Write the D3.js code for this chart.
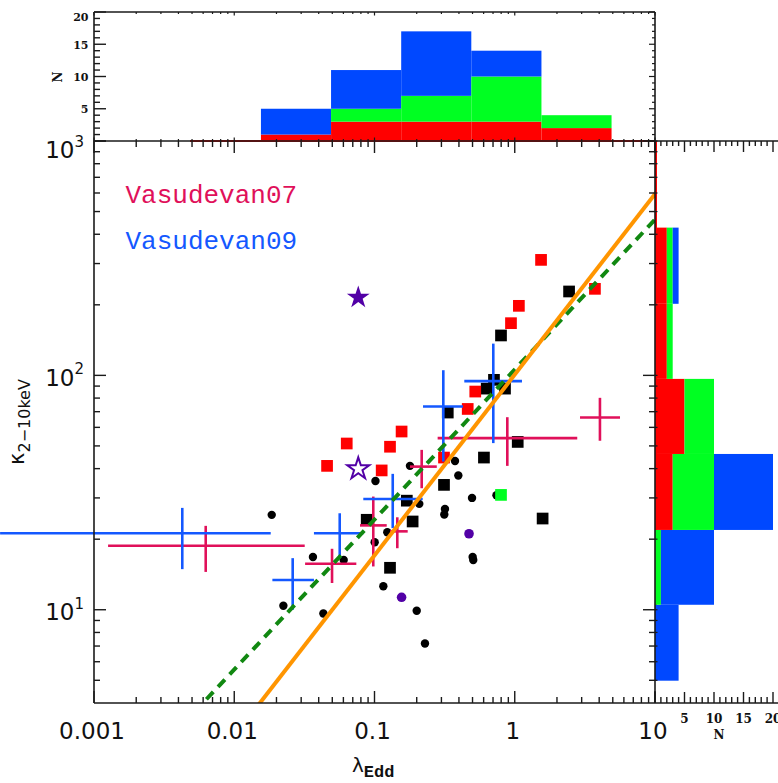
<!DOCTYPE html>
<html><head><meta charset="utf-8">
<script src="https://cdn.jsdelivr.net/npm/d3@7"></script>
<style>body{margin:0;background:#fff} svg{display:block}</style>
</head><body>
<svg id="c" width="778" height="783"></svg>
<script>
// ---------------- data ----------------
const blackSquares = [[2.44,228],[0.798,148],[0.711,95.7],[0.631,87.8],[0.852,87.8],[0.333,69.4],[1.05,52.0],[0.603,44.6],[0.313,34.1],[0.170,29.2],[0.187,23.8],[0.129,15.1],[1.58,24.5],[0.088,24.2]];
const redSquares = [[1.54,311],[3.73,234],[1.07,198],[0.94,167],[0.523,85.3],[0.462,71.9],[0.313,44.6],[0.156,57.6],[0.129,49.6],[0.1125,39.3],[0.0634,51.2],[0.0459,41.1]];
const greenSquares = [[0.798,30.9]];
const blackCircles = [[0.741,30.8],[0.179,41.1],[0.1016,35.4],[0.375,43.1],[0.396,37.4],[0.496,30.0],[0.2086,28.3],[0.318,26.9],[0.3145,25.5],[0.1234,21.4],[0.1003,19.4],[0.501,16.8],[0.506,16.3],[0.1156,12.6],[0.200,9.9],[0.229,7.18],[0.0185,25.4],[0.0364,16.8],[0.0603,16.3],[0.0224,10.4],[0.0432,9.64]];
const purpleCircles = [[0.472,21.1],[0.156,11.3]];
const filledStars = [[0.0766,215]];
const openStars = [[0.0766,39.9]];
// lambda, lambdaLo, lambdaHi, kappa, kappaLo, kappaHi
const vasudevan07 = [[0.00626,0.00126,0.0318,18.75,14.5,22.8],[0.0498,0.0320,0.0742,15.7,13.0,18.2],[0.098,0.0788,0.1222,22.9,15.3,30.4],[0.1454,0.129,0.1725,21.6,18.3,24.8],[0.217,0.179,0.278,40.8,33.0,48.1],[0.885,0.282,2.79,54.0,41.1,66.3],[4.05,2.92,5.63,66.1,52.6,80.2]];
const vasudevan09 = [[0.00426,0.000214,0.0182,21.2,14.9,27.2],[0.0261,0.0187,0.037,13.4,10.0,16.6],[0.0565,0.037,0.0832,21.2,16.6,25.8],[0.1349,0.0832,0.2206,29.7,22.3,38.0],[0.3095,0.2218,0.4276,73.6,42.9,105.2],[0.703,0.4368,1.126,94.5,51.4,136.6]];
// log-log fits: [log10 intercept, slope]
const orangeFit = [2.003, 0.771];
const greenFit = [2.025, 0.640];
// histograms
const lambdaBinEdges = [0.0155,0.049,0.155,0.49,1.55,4.9];
const lambdaHistRed = [1,3,3,3,2];
const lambdaHistGreen = [0,2,4,7,2];
const lambdaHistBlue = [4,6,10,4,0];
const kappaBinEdges = [4.98,10.5,21.9,46.2,96.6,202,427];
const kappaHistRed = [0,0,3,5,2,2];
const kappaHistGreen = [0,1,7,5,1,1];
const kappaHistBlue = [4,9,10,0,0,1];
const xTickLabels = ['0.001','0.01','0.1','1','10'];
const yTickExponents = ['1','2','3'];
const countTicks = [5,10,15,20];
const legendNames = ['Vasudevan07','Vasudevan09'];

// ---------------- setup ----------------
const svg = d3.select('#c');
const L=94,R=655,T=141,B=703, TT=12, RR=773;
const x = d3.scaleLog().domain([0.001,10]).range([L,R]);
const y = d3.scaleLog().domain([4.0,1000]).range([B,T]);
const yTop = d3.scaleLinear().domain([0,20]).range([T,TT]);
const xRight = d3.scaleLinear().domain([0,20]).range([R,RR]);
const AX = '#1a1a1a', AW = 1.6;
const RED='#FF0000', GREEN='#00FF22', BLUE='#0048FF', PURPLE='#5200A6', CRIM='#E0105A', LBLUE='#1458FF';

svg.append('defs').append('clipPath').attr('id','plotclip')
  .append('rect').attr('x',L).attr('y',T).attr('width',R-L).attr('height',B-T);

function line(x1,y1,x2,y2,stroke=AX,w=AW){
  return svg.append('line').attr('x1',x1).attr('y1',y1).attr('x2',x2).attr('y2',y2)
    .attr('stroke',stroke).attr('stroke-width',w);
}
function logTicks(lo,hi){
  const out=[];
  for(let d=Math.floor(Math.log10(lo)); d<=Math.ceil(Math.log10(hi)); d++){
    for(let m=1;m<=9;m++){
      const v=m*Math.pow(10,d);
      if(v>=lo*0.9999 && v<=hi*1.0001) out.push({v, major:m===1});
    }
  }
  return out;
}

// ---------------- top histogram ----------------
line(190,T,R,T,RED,2);
const topG = svg.append('g');
lambdaBinEdges.slice(0,-1).forEach((e,i)=>{
  const x0=x(e), x1=x(lambdaBinEdges[i+1]);
  const r=lambdaHistRed[i], g=lambdaHistGreen[i], b=lambdaHistBlue[i];
  [[0,r,RED],[r,r+g,GREEN],[r+g,r+g+b,BLUE]].forEach(([a,c,col])=>{
    if(c>a) topG.append('rect').attr('x',x0).attr('width',x1-x0).attr('y',yTop(c)).attr('height',yTop(a)-yTop(c)).attr('fill',col);
  });
});

// ---------------- right histogram ----------------
line(R+1,T,R+1,y(kappaBinEdges[0]),RED,2);
kappaBinEdges.slice(0,-1).forEach((e,i)=>{
  const y0=y(e), y1=y(kappaBinEdges[i+1]);
  const r=kappaHistRed[i], g=kappaHistGreen[i], b=kappaHistBlue[i];
  [[0,r,RED],[r,r+g,GREEN],[r+g,r+g+b,BLUE]].forEach(([a,c,col])=>{
    if(c>a) svg.append('rect').attr('x',xRight(a)).attr('width',xRight(c)-xRight(a)).attr('y',y1).attr('height',y0-y1).attr('fill',col);
  });
});

// ---------------- main plot points ----------------
const pts = svg.append('g');
const SQ=11.7;
function squares(data,col){
  pts.selectAll(null).data(data).enter().append('rect')
    .attr('x',d=>x(d[0])-SQ/2).attr('y',d=>y(d[1])-SQ/2).attr('width',SQ).attr('height',SQ).attr('fill',col);
}
function circles(data,col,r){
  pts.selectAll(null).data(data).enter().append('circle')
    .attr('cx',d=>x(d[0])).attr('cy',d=>y(d[1])).attr('r',r).attr('fill',col);
}
circles(blackCircles,'#000',4.2);
squares(blackSquares,'#000');
squares(redSquares,RED);
squares(greenSquares,GREEN);
circles(purpleCircles,PURPLE,4.8);
const star = d3.symbol().type(d3.symbolStar).size(162);
pts.selectAll(null).data(filledStars).enter().append('path').attr('d',star)
  .attr('transform',d=>`translate(${x(d[0])},${y(d[1])})`).attr('fill',PURPLE);
const star2 = d3.symbol().type(d3.symbolStar).size(150);
pts.selectAll(null).data(openStars).enter().append('path').attr('d',star2)
  .attr('transform',d=>`translate(${x(d[0])},${y(d[1])})`).attr('fill','none').attr('stroke',PURPLE).attr('stroke-width',2);

function crosses(data,col){
  const g=svg.append('g').attr('stroke',col).attr('stroke-width',2.6);
  data.forEach(d=>{
    g.append('line').attr('x1',x(d[1])).attr('x2',x(d[2])).attr('y1',y(d[3])).attr('y2',y(d[3]));
    g.append('line').attr('x1',x(d[0])).attr('x2',x(d[0])).attr('y1',y(d[4])).attr('y2',y(d[5]));
  });
}
crosses(vasudevan07,CRIM);
crosses(vasudevan09,LBLUE);

// fit lines
const fitG = svg.append('g').attr('clip-path','url(#plotclip)');
function fit(p,col,dash){
  const lx=[0.0003,30];
  const l=fitG.append('line')
    .attr('x1',x(lx[0])).attr('y1',y(Math.pow(10,p[0]+p[1]*Math.log10(lx[0]))))
    .attr('x2',x(lx[1])).attr('y2',y(Math.pow(10,p[0]+p[1]*Math.log10(lx[1]))))
    .attr('stroke',col).attr('stroke-width',4);
  if(dash) l.attr('stroke-dasharray',dash);
}
fit(greenFit,'#118811','10,7');
fit(orangeFit,'#FF9500',null);

// ---------------- axes ----------------
line(L,T,R,T); line(L,B,R,B); line(L,TT,L,B); line(R,TT,R,B);
logTicks(0.001,10).forEach(t=>{
  const px=x(t.v), len=t.major?12:6;
  line(px,B,px,B-len,AX,1.4);
  line(px,T,px,T+len,AX,1.4);
  const sl=t.major?3.5:2;
  line(px,TT,px,TT+sl,AX,1.2);
  line(px,T,px,T-sl,AX,1.2);
});
logTicks(5,1000).forEach(t=>{
  const py=y(t.v), len=t.major?12:6;
  line(L,py,L+len,py,AX,1.4);
  line(R,py,R-len,py,AX,1.4);
  line(R,py,R+2.5,py,AX,1.2);
});
line(L,TT,R,TT);
d3.range(0,21).forEach(v=>{
  const py=yTop(v), maj=v%5===0;
  line(L,py,L+(maj?12:6),py,AX,1.4);
  line(R,py,R-(maj?6:3),py,AX,1.2);
});
line(R,T,778,T); line(R,B,778,B);
d3.range(0,21).forEach(v=>{
  const px=xRight(v), maj=v%5===0;
  line(px,T,px,T+(maj?11:5),AX,1.4);
  line(px,B,px,B-(maj?11:6),AX,1.4);
});

// ---------------- text ----------------
const sans = "'DejaVu Sans', 'Liberation Sans', sans-serif";
const serifB = "'DejaVu Serif', 'Liberation Serif', serif";
const mono = "'Liberation Mono', 'Courier New', monospace";
[0.001,0.01,0.1,1,10].forEach((v,i)=>{
  svg.append('text').attr('x',x(v)-2).attr('y',739).attr('text-anchor','middle')
    .attr('font-family',sans).attr('font-size',23).attr('fill','#111').text(xTickLabels[i]);
});
[10,100,1000].forEach((v,i)=>{
  const by = v===1000 ? 158 : y(v)+10.5;
  const t=svg.append('text').attr('x',84).attr('y',by).attr('text-anchor','end')
    .attr('font-family',sans).attr('font-size',23).attr('fill','#111');
  t.append('tspan').text('10');
  t.append('tspan').attr('font-size',15).attr('dy',-11.5).text(yTickExponents[i]);
});
const xt = svg.append('text').attr('x',352).attr('y',771.5).attr('font-family',sans).attr('font-size',20).attr('fill','#111');
xt.append('tspan').text('λ');
xt.append('tspan').attr('dy',5).attr('font-family',mono).attr('font-weight','bold').attr('font-size',17).text('Edd');
const yt = svg.append('text').attr('transform','translate(23.5,422) rotate(-90)').attr('text-anchor','middle')
  .attr('font-family',sans).attr('font-size',21).attr('fill','#111');
yt.append('tspan').text('κ');
yt.append('tspan').attr('dy',6.7).attr('font-size',16).text('2−10keV');
countTicks.forEach(v=>{
  const py = v===20 ? yTop(v)+9 : yTop(v)+4.5;
  svg.append('text').attr('x',88.5).attr('y',py).attr('text-anchor','end')
    .attr('font-family',serifB).attr('font-weight','bold').attr('font-size',11).attr('fill','#111').text(v);
  svg.append('text').attr('x',xRight(v)).attr('y',722.5).attr('text-anchor','middle')
    .attr('font-family',serifB).attr('font-weight','bold').attr('font-size',12).attr('fill','#111').text(v);
});
svg.append('text').attr('transform','translate(61.5,77) rotate(-90)').attr('text-anchor','middle')
  .attr('font-family',serifB).attr('font-weight','bold').attr('font-size',12).attr('fill','#111').text('N');
svg.append('text').attr('x',719).attr('y',739).attr('text-anchor','middle')
  .attr('font-family',serifB).attr('font-weight','bold').attr('font-size',12).attr('fill','#111').text('N');
[CRIM,LBLUE].forEach((c,i)=>{
  svg.append('text').attr('x',125.5).attr('y',[202.5,248.5][i]).attr('font-family',mono).attr('font-size',26)
    .attr('fill',c).text(legendNames[i]);
});
</script>
</body></html>
